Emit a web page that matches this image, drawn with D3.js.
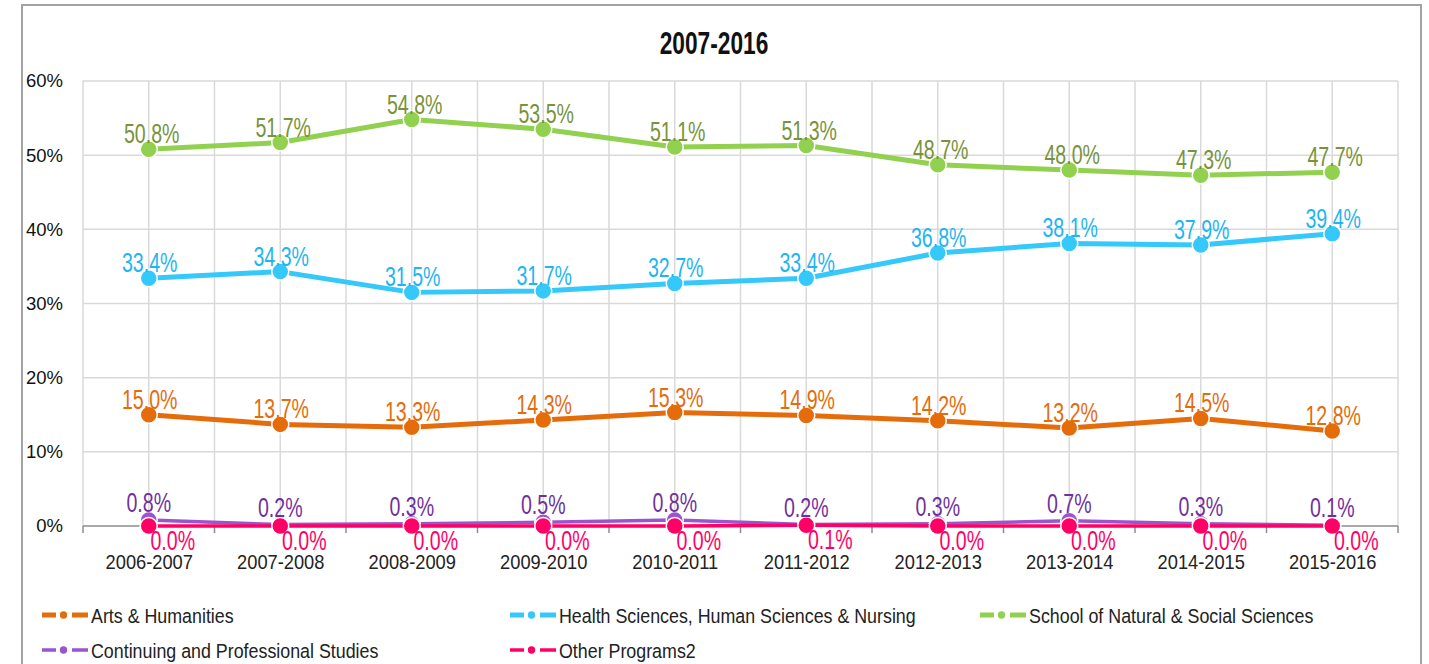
<!DOCTYPE html>
<html>
<head>
<meta charset="utf-8">
<script src="https://cdn.jsdelivr.net/npm/d3@7"></script>
<style>
  body { margin: 0; background: #fff; }
  svg { display: block; }
  text { font-family: "Liberation Sans", Arial, sans-serif; }
</style>
</head>
<body>
<svg id="chart"></svg>
<script>
// data
const years = ['2006-2007', '2007-2008', '2008-2009', '2009-2010', '2010-2011',
               '2011-2012', '2012-2013', '2013-2014', '2014-2015', '2015-2016'];
const arts      = [15.0, 13.7, 13.3, 14.3, 15.3, 14.9, 14.2, 13.2, 14.5, 12.8];
const health    = [33.4, 34.3, 31.5, 31.7, 32.7, 33.4, 36.8, 38.1, 37.9, 39.4];
const natural   = [50.8, 51.7, 54.8, 53.5, 51.1, 51.3, 48.7, 48.0, 47.3, 47.7];
const continuing = [0.8, 0.2, 0.3, 0.5, 0.8, 0.2, 0.3, 0.7, 0.3, 0.1];
const other     = [0.0, 0.0, 0.0, 0.0, 0.0, 0.1, 0.0, 0.0, 0.0, 0.0];
const yTicks = [0, 10, 20, 30, 40, 50, 60];

const series = [
  {name: 'Arts & Humanities', values: arts, line: '#e46c0a', label: '#e46c0a', w: 5, dx: 1, dy: -6},
  {name: 'Health Sciences, Human Sciences & Nursing', values: health, line: '#35c8fa', label: '#1fb5f0', w: 5, dx: 1, dy: -6},
  {name: 'School of Natural & Social Sciences', values: natural, line: '#92d050', label: '#77933c', w: 5, dx: 3, dy: -6},
  {name: 'Continuing and Professional Studies', values: continuing, line: '#9a55cc', label: '#7030a0', w: 3.5, dx: 0, dy: -8},
  {name: 'Other Programs2', values: other, line: '#ff0066', label: '#ff0066', w: 3.5, dx: 24, dy: 24}
];

const W = 1429, H = 664;
const svg = d3.select('#chart').attr('width', W).attr('height', H);

// outer frame
svg.append('rect')
  .attr('x', 22).attr('y', 5).attr('width', 1399).attr('height', 700)
  .attr('fill', 'none').attr('stroke', '#a3a3a3').attr('stroke-width', 2);

// title (condensed via horizontal scale)
svg.append('g').attr('transform', 'translate(714,54)')
  .append('text')
  .attr('transform', 'scale(0.71,1)')
  .attr('text-anchor', 'middle')
  .style('font-size', '32px').style('font-weight', 'bold')
  .attr('fill', '#111')
  .text('2007-2016');

const pLeft = 83, pRight = 1398, pTop = 81, pBottom = 526;

const xband = d3.scaleBand().domain(years).range([pLeft, pRight]);
const x = d3.scalePoint().domain(years).range([pLeft, pRight]).padding(0.5);
const y = d3.scaleLinear().domain([0, 60]).range([pBottom, pTop]);

const grid = svg.append('g');
// horizontal grid
grid.selectAll('.hg').data(yTicks.filter(d => d > 0)).join('line')
  .attr('x1', pLeft).attr('x2', pRight)
  .attr('y1', d => y(d)).attr('y2', d => y(d))
  .attr('stroke', '#d9d9d9').attr('stroke-width', 1.5);
// vertical grid at band edges and centers
const vlines = [];
years.forEach(c => { vlines.push(xband(c)); vlines.push(x(c)); });
vlines.push(pRight);
grid.selectAll('.vg').data(vlines).join('line')
  .attr('x1', d => d).attr('x2', d => d)
  .attr('y1', pTop).attr('y2', pBottom)
  .attr('stroke', '#d9d9d9').attr('stroke-width', 1.5);

// x axis
const xaxis = d3.axisBottom(x).tickSize(0).tickPadding(0);
const xg = svg.append('g').attr('transform', `translate(0,${pBottom})`).call(xaxis);
xg.select('.domain').remove();
xg.selectAll('text')
  .attr('y', 43)
  .attr('dy', 0)
  .attr('transform', 'scale(0.87,1)')
  .attr('fill', '#222')
  .style('font-size', '21px');
svg.append('line')
  .attr('x1', pLeft).attr('x2', pRight).attr('y1', pBottom).attr('y2', pBottom)
  .attr('stroke', '#8c8c8c').attr('stroke-width', 1.5);
svg.selectAll('.xt').data(years.map(c => xband(c)).concat([pRight])).join('line')
  .attr('x1', d => d).attr('x2', d => d)
  .attr('y1', pBottom).attr('y2', pBottom + 7)
  .attr('stroke', '#8c8c8c').attr('stroke-width', 1.5);

// y axis
const yaxis = d3.axisLeft(y).tickValues(yTicks).tickFormat(d => d + '%').tickSize(0).tickPadding(20);
const yg = svg.append('g').attr('transform', `translate(${pLeft},0)`).call(yaxis);
yg.select('.domain').remove();
yg.selectAll('text')
  .attr('fill', '#111')
  .style('font-size', '18.5px');

// lines
const line = d3.line().x((d, i) => x(years[i])).y(d => y(d));
series.forEach(s => {
  svg.append('path')
    .datum(s.values)
    .attr('d', line)
    .attr('fill', 'none')
    .attr('stroke', s.line)
    .attr('stroke-width', s.w)
    .attr('stroke-linejoin', 'round');
  svg.append('g').selectAll('circle').data(s.values).join('circle')
    .attr('cx', (d, i) => x(years[i]))
    .attr('cy', d => y(d))
    .attr('r', 8.5)
    .attr('fill', s.line)
    .attr('stroke', '#fff')
    .attr('stroke-width', 1.5);
});

// data labels
series.forEach(s => {
  svg.append('g').selectAll('g').data(s.values).join('g')
    .attr('transform', (d, i) => `translate(${x(years[i]) + s.dx},${y(d) + s.dy})`)
    .append('text')
    .attr('transform', 'scale(0.7,1)')
    .attr('text-anchor', 'middle')
    .attr('fill', s.label)
    .style('font-size', '28px')
    .text(d => d.toFixed(1) + '%');
});

// legend
const legendPos = [[42, 615], [510, 615], [980, 615], [42, 650], [510, 650]];
series.forEach((s, i) => {
  const g = svg.append('g').attr('transform', `translate(${legendPos[i][0]},${legendPos[i][1]})`);
  const lw = s.w < 5 ? 3.5 : 5;
  g.append('line').attr('x1', 0).attr('x2', 14).attr('y1', 0).attr('y2', 0)
    .attr('stroke', s.line).attr('stroke-width', lw);
  g.append('line').attr('x1', 30).attr('x2', 46).attr('y1', 0).attr('y2', 0)
    .attr('stroke', s.line).attr('stroke-width', lw);
  g.append('circle').attr('cx', 21.5).attr('cy', 0).attr('r', 3.7)
    .attr('fill', s.line);
  g.append('g').attr('transform', 'translate(49,7.5)')
    .append('text')
    .attr('transform', 'scale(0.87,1)')
    .attr('fill', '#222')
    .style('font-size', '20.5px')
    .text(s.name);
});
</script>
</body>
</html>
